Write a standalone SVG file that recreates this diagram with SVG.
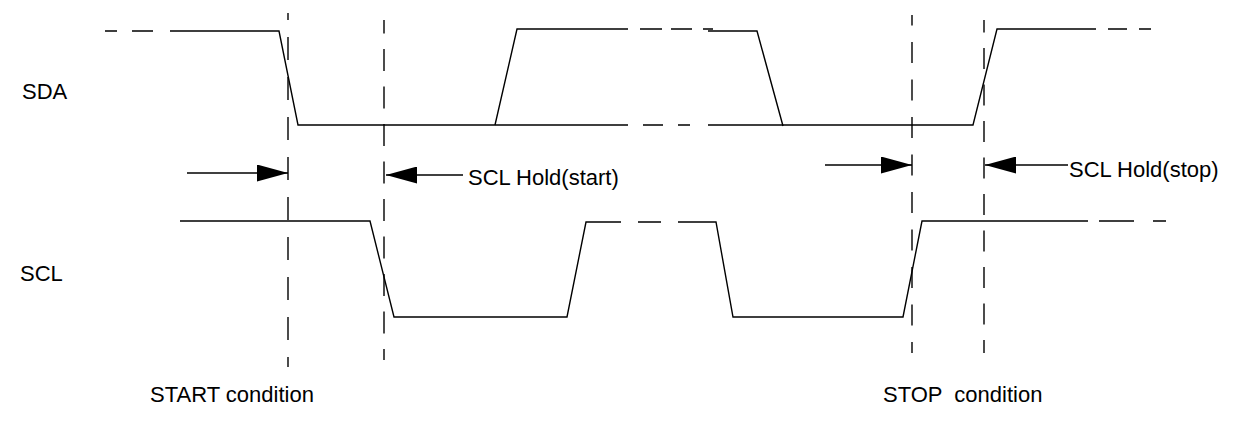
<svg xmlns="http://www.w3.org/2000/svg" width="1233" height="432" viewBox="0 0 1233 432">
<style>
.w{fill:none;stroke:#000;stroke-width:1.4;stroke-linejoin:miter}
.v{fill:none;stroke:#000;stroke-width:1.4}
.ar{fill:none;stroke:#000;stroke-width:1.3}
.t{font-family:"Liberation Sans",Arial,sans-serif;font-size:22px;fill:#000}
</style>
<defs>
<marker id="ah" viewBox="0 0 31 17" refX="31" refY="8.5" markerWidth="31" markerHeight="17" markerUnits="userSpaceOnUse" orient="auto">
<path d="M0,0 L31,8.5 L0,17 Z" fill="#000"/>
</marker>
</defs>
<rect width="1233" height="432" fill="#fff"/>
<g id="sda">
<path class="w" d="M105,31 H117 M132,31 H153 M170,31 H279 L298,125 H613 M613,125 H628 M643,125 H663 M678,125 H690 M708,125 H973 L997,29 H1085 M1085,29 H1096 M1108,29 H1127 M1139,29 H1151"/>
<path class="w" d="M495,125 L517,29 H613 M613,29 H628 M640,29 H662 M671,29 H692 M703,29 H713 M708,31 H757 L783,126"/>
</g>
<g id="scl">
<path class="w" d="M180,221 H370 L394,317 H567 L586,222 H610 M610,222 H621 M638,222 H661 M678,222 H716 L733,317 H903 L922,221 H1078 M1078,221 H1088 M1099,221 H1134 M1153,221 H1166"/>
</g>
<g id="markers">
<line class="v" x1="288" y1="13" x2="288" y2="367" stroke-dasharray="23 17" stroke-dashoffset="16"/>
<line class="v" x1="384" y1="20" x2="384" y2="360" stroke-dasharray="22 15.5" stroke-dashoffset="8.5"/>
<line class="v" x1="912" y1="15" x2="912" y2="353" stroke-dasharray="21 16.5" stroke-dashoffset="10.5"/>
<line class="v" x1="984" y1="20" x2="984" y2="353" stroke-dasharray="21 15.5" stroke-dashoffset="8.5"/>
</g>
<g id="connectors">
<line class="ar" x1="187" y1="173" x2="288" y2="173" marker-end="url(#ah)"/>
<line class="ar" x1="463" y1="175" x2="386" y2="175" marker-end="url(#ah)"/>
<line class="ar" x1="825" y1="165" x2="912" y2="165" marker-end="url(#ah)"/>
<line class="ar" x1="1068" y1="165" x2="985" y2="165" marker-end="url(#ah)"/>
</g>
<g id="labels">
<text class="t" x="22" y="99">SDA</text>
<text class="t" x="20" y="281">SCL</text>
<text class="t" x="468" y="185">SCL Hold(start)</text>
<text class="t" x="1069" y="177">SCL Hold(stop)</text>
<text class="t" x="150" y="402">START condition</text>
<text class="t" x="883" y="402" xml:space="preserve">STOP  condition</text>
</g>
</svg>
